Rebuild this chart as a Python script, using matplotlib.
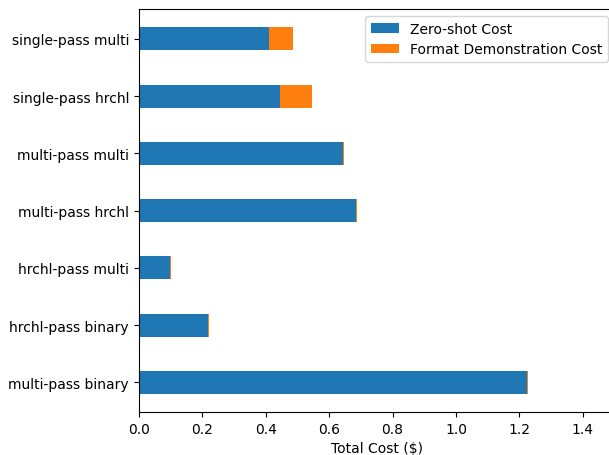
import matplotlib
matplotlib.use('Agg')
import matplotlib.pyplot as plt
import numpy as np

# methods, bottom to top
methods = ['multi-pass binary', 'hrchl-pass binary', 'hrchl-pass multi',
           'multi-pass hrchl', 'multi-pass multi', 'single-pass hrchl',
           'single-pass multi']
zero_shot_cost = [1.224, 0.218, 0.099, 0.684, 0.644, 0.445, 0.411]
format_demo_cost = [0.002, 0.002, 0.002, 0.003, 0.002, 0.101, 0.075]

fig = plt.figure(figsize=(6.09, 4.56), dpi=100)
ax = fig.add_axes([0.2278, 0.094, 0.7815, 0.884])

y = np.arange(len(methods))
ax.barh(y, zero_shot_cost, height=0.4, color='#1f77b4', label='Zero-shot Cost')
ax.barh(y, format_demo_cost, height=0.4, left=zero_shot_cost, color='#ff7f0e',
        label='Format Demonstration Cost')

ax.set_yticks(y)
ax.set_yticklabels(methods)
ax.set_xlim(0, 1.5)
ax.set_xlabel('Total Cost ($)')
ax.legend(loc='upper right')

fig.savefig('out.png', dpi=100)
